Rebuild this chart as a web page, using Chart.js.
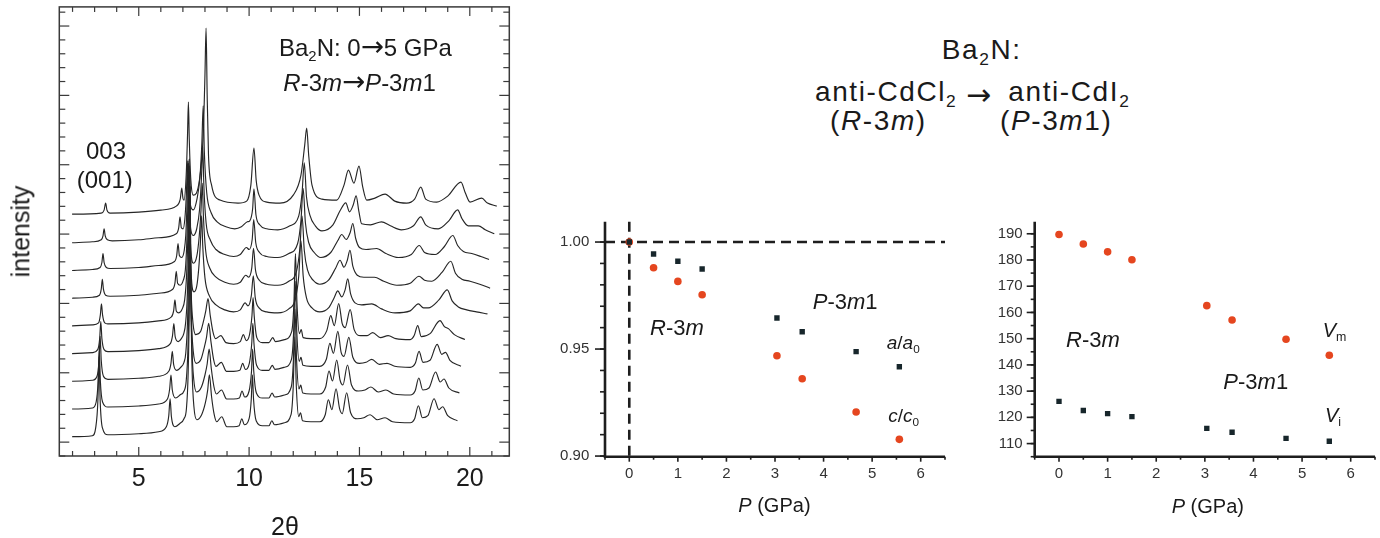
<!DOCTYPE html>
<html><head><meta charset="utf-8">
<script src="https://cdn.jsdelivr.net/npm/chart.js@4.4.1/dist/chart.umd.min.js"></script>
<style>
html,body{margin:0;padding:0;background:#fff;}
#wrap{position:relative;width:1380px;height:538px;overflow:hidden;background:#fff;font-family:"Liberation Sans",Arial,sans-serif;color:#1a1a1a;}
.cv{position:absolute;}
.t{position:absolute;white-space:nowrap;line-height:1;}
.t i{font-style:italic;}
.sub{font-size:0.62em;position:relative;top:0.32em;}
.arr{font-family:"DejaVu Sans",sans-serif;font-size:1.15em;letter-spacing:0;}
</style></head>
<body><div id="wrap">
<canvas id="c1" class="cv" width="520" height="538" style="left:0;top:0"></canvas>
<canvas id="c2" class="cv" width="420" height="338" style="left:540px;top:200px"></canvas>
<canvas id="c3" class="cv" width="420" height="338" style="left:960px;top:200px"></canvas>
</div>
<script>
// ---------- XRD patterns (2θ, intensity above own baseline), bottom (0 GPa) to top ----------
const TRACE_1 = [[1.98,0],[2.9,1],[3.05,9],[3.15,37],[3.2,80],[3.25,37],[3.35,9],[3.6,2],[5.0,3],[5.9,5],[6.25,10],[6.36,21],[6.42,38],[6.48,20],[6.64,10],[6.85,13],[7.05,18],[7.16,28],[7.24,65],[7.29,130],[7.33,250],[7.37,130],[7.42,65],[7.5,30],[7.63,17],[7.85,22],[8.02,34],[8.12,46],[8.2,62],[8.3,40],[8.42,22],[8.53,15],[8.76,20],[8.99,10],[9.3,10],[9.55,11],[9.67,18],[9.78,12],[10.0,18],[10.1,38],[10.15,62],[10.2,38],[10.32,16],[10.6,11],[10.9,11],[11.03,16],[11.15,12],[11.6,14],[11.9,22],[12.0,50],[12.07,100],[12.14,50],[12.25,20],[12.33,24],[12.42,16],[12.8,15],[13.2,15],[13.45,22],[13.59,37],[13.75,27],[13.94,48],[14.1,28],[14.22,23],[14.42,44],[14.6,24],[14.9,18],[15.2,19],[15.48,22],[15.8,17],[16.16,19],[16.5,15],[17.3,14],[17.5,18],[17.67,31],[17.85,19],[18.1,21],[18.38,38],[18.6,27],[18.77,30],[19.0,21],[19.44,16]];
const TRACE_2 = [[1.98,0],[2.9,1],[3.07,7],[3.16,28],[3.21,60],[3.26,28],[3.36,7],[3.6,2],[5.0,3],[5.9,5],[6.3,10],[6.4,20],[6.46,34],[6.52,19],[6.67,11],[6.87,14],[7.05,18],[7.15,28],[7.23,62],[7.28,120],[7.32,235],[7.36,120],[7.41,62],[7.49,30],[7.62,17],[7.84,22],[8.0,34],[8.1,45],[8.19,60],[8.29,40],[8.41,22],[8.52,15],[8.75,19],[8.98,10],[9.3,10],[9.56,11],[9.68,18],[9.8,12],[10.0,18],[10.11,38],[10.16,60],[10.21,38],[10.33,16],[10.6,11],[10.9,11],[11.04,16],[11.16,12],[11.6,14],[11.91,22],[12.01,50],[12.08,100],[12.15,50],[12.26,20],[12.34,24],[12.43,16],[12.8,15],[13.2,15],[13.47,22],[13.62,38],[13.78,28],[13.97,49],[14.12,29],[14.25,24],[14.46,44],[14.64,24],[14.95,18],[15.25,19],[15.52,22],[15.85,17],[16.2,19],[16.55,15],[17.3,14],[17.52,18],[17.69,31],[17.87,19],[18.15,21],[18.45,37],[18.66,27],[18.83,30],[19.05,21],[19.53,16]];
const TRACE_3 = [[1.98,0],[2.9,1],[3.11,5],[3.2,21],[3.25,45],[3.3,21],[3.4,5],[3.6,2],[5.0,3],[5.9,5],[6.36,10],[6.46,18],[6.52,30],[6.58,17],[6.72,11],[6.9,14],[7.05,19],[7.13,28],[7.21,60],[7.26,112],[7.3,215],[7.34,112],[7.39,60],[7.47,30],[7.6,18],[7.82,22],[7.97,34],[8.07,44],[8.17,58],[8.27,40],[8.39,22],[8.5,15],[8.74,19],[8.97,10],[9.3,10],[9.58,11],[9.71,18],[9.83,12],[10.01,18],[10.12,38],[10.17,58],[10.22,38],[10.34,16],[10.6,11],[10.9,11],[11.05,16],[11.17,12],[11.6,14],[11.92,22],[12.02,50],[12.09,100],[12.16,50],[12.27,20],[12.35,24],[12.44,16],[12.8,15],[13.2,15],[13.5,22],[13.66,38],[13.82,28],[14.02,50],[14.17,29],[14.3,25],[14.52,44],[14.7,24],[15.0,18],[15.3,19],[15.56,22],[15.9,17],[16.25,18],[16.6,15],[17.3,14],[17.53,18],[17.7,30],[17.88,19],[18.2,21],[18.52,37],[18.73,27],[18.9,29],[19.1,21],[19.6,15]];
const TRACE_4 = [[1.98,0],[2.9,1],[3.14,4],[3.23,15],[3.28,32],[3.33,15],[3.43,4],[3.6,2],[5.0,3],[5.9,5],[6.43,10],[6.53,18],[6.59,30],[6.65,17],[6.79,12],[6.93,15],[7.04,20],[7.12,30],[7.2,58],[7.25,105],[7.29,195],[7.33,105],[7.38,58],[7.46,30],[7.58,19],[7.8,22],[7.94,33],[8.04,43],[8.14,55],[8.24,38],[8.36,22],[8.48,15],[8.72,18],[8.95,11],[9.3,10],[9.6,12],[9.74,19],[9.87,13],[10.02,19],[10.13,38],[10.18,56],[10.23,38],[10.35,16],[10.6,11],[10.9,11],[11.07,16],[11.19,12],[11.6,14],[11.93,22],[12.03,50],[12.1,100],[12.17,50],[12.28,20],[12.36,24],[12.45,16],[12.8,15],[13.2,15],[13.52,23],[13.7,38],[13.86,28],[14.06,50],[14.22,30],[14.35,26],[14.58,44],[14.76,24],[15.05,18],[15.35,18],[15.6,21],[15.95,16],[16.3,18],[16.65,15],[17.3,14],[17.48,18],[17.64,28],[17.8,17],[18.2,20],[18.65,33],[18.85,27],[19.03,25],[19.3,19],[19.78,14]];
const TRACE_5 = [[1.98,0],[2.9,1],[3.18,3],[3.26,11],[3.31,22],[3.36,11],[3.46,3],[3.6,2],[5.0,3],[5.9,5],[6.48,9],[6.58,15],[6.64,26],[6.7,15],[6.82,13],[6.97,17],[7.08,26],[7.17,52],[7.23,95],[7.28,160],[7.32,90],[7.38,50],[7.5,34],[7.63,40],[7.72,58],[7.79,82],[7.85,110],[7.9,80],[8.0,48],[8.2,30],[8.5,21],[8.9,16],[9.3,14],[9.6,16],[9.82,23],[9.95,20],[10.1,30],[10.19,50],[10.28,28],[10.45,18],[10.8,14],[11.3,13],[11.8,17],[12.1,27],[12.25,50],[12.35,85],[12.45,50],[12.6,28],[12.85,18],[13.2,14],[13.6,18],[13.85,28],[14.02,35],[14.2,29],[14.35,36],[14.47,47],[14.6,32],[14.8,23],[15.1,21],[15.56,22],[16.0,17],[16.61,13],[17.3,15],[17.67,22],[17.9,18],[18.12,18],[18.6,26],[18.98,36],[19.2,25],[19.48,19],[19.86,16],[20.3,14],[20.8,12]];
const TRACE_6 = [[1.98,0],[2.9,1],[3.22,3],[3.3,9],[3.35,19],[3.4,9],[3.5,3],[3.7,2],[5.0,3],[5.9,5],[6.54,9],[6.64,15],[6.7,27],[6.76,15],[6.88,13],[7.02,18],[7.11,28],[7.17,52],[7.22,88],[7.26,135],[7.3,85],[7.36,48],[7.48,35],[7.63,42],[7.74,62],[7.82,88],[7.88,115],[7.93,82],[8.03,48],[8.22,30],[8.5,21],[8.9,16],[9.3,14],[9.6,16],[9.85,23],[9.98,21],[10.12,30],[10.2,50],[10.29,28],[10.46,18],[10.8,14],[11.3,13],[11.8,17],[12.15,27],[12.3,50],[12.4,82],[12.5,48],[12.65,28],[12.9,18],[13.2,14],[13.6,18],[13.92,30],[14.12,38],[14.3,31],[14.45,38],[14.57,48],[14.7,32],[14.9,23],[15.2,21],[15.68,21],[16.1,17],[16.69,13],[17.3,15],[17.7,22],[17.95,18],[18.28,17],[18.75,26],[19.14,37],[19.35,25],[19.64,19],[20.01,17],[20.45,14],[20.92,10]];
const TRACE_7 = [[1.98,0],[2.9,1],[3.25,3],[3.33,8],[3.38,17],[3.43,8],[3.53,3],[3.7,2],[5.0,3],[5.9,5],[6.62,9],[6.72,15],[6.78,27],[6.84,15],[6.95,13],[7.06,20],[7.13,35],[7.18,62],[7.24,110],[7.29,65],[7.35,42],[7.47,35],[7.63,42],[7.76,62],[7.84,92],[7.9,124],[7.95,85],[8.05,48],[8.25,30],[8.5,21],[8.9,16],[9.3,14],[9.6,16],[9.88,23],[10.0,21],[10.14,31],[10.21,51],[10.3,28],[10.47,18],[10.8,14],[11.3,13],[11.8,17],[12.2,27],[12.35,50],[12.45,82],[12.55,48],[12.7,28],[12.95,18],[13.25,13],[13.7,18],[14.02,30],[14.2,36],[14.4,31],[14.58,38],[14.7,47],[14.83,32],[15.0,23],[15.3,21],[15.78,22],[16.2,17],[16.76,13],[17.35,16],[17.71,25],[17.95,18],[18.43,16],[18.85,24],[19.23,35],[19.45,25],[19.71,19],[20.09,17],[20.5,14],[20.87,11]];
const TRACE_8 = [[1.98,0],[2.9,1],[3.3,3],[3.38,7],[3.43,14],[3.48,7],[3.58,3],[3.8,2],[5.0,3],[5.9,5],[6.7,9],[6.81,15],[6.87,26],[6.93,15],[7.01,14],[7.09,24],[7.15,45],[7.22,82],[7.27,55],[7.34,38],[7.47,33],[7.64,44],[7.77,65],[7.86,100],[7.92,137],[7.97,92],[8.08,50],[8.28,30],[8.55,21],[8.95,16],[9.35,14],[9.65,16],[9.92,21],[10.03,22],[10.16,34],[10.22,54],[10.31,28],[10.48,18],[10.8,14],[11.3,13],[11.85,17],[12.25,27],[12.4,50],[12.5,80],[12.6,46],[12.75,28],[13.0,17],[13.3,12],[13.8,18],[14.12,32],[14.38,40],[14.55,31],[14.72,38],[14.85,47],[14.97,32],[15.1,19],[15.5,18],[16.0,21],[16.4,17],[16.9,13],[17.45,17],[17.78,26],[18.0,18],[18.57,14],[19.05,22],[19.45,33],[19.65,24],[19.93,17],[20.39,17],[20.7,13],[21.11,9]];
const TRACE_9 = [[1.98,1],[3.3,2],[3.43,5],[3.5,12],[3.56,5],[3.7,2],[5.0,3],[6.0,5],[6.7,9],[6.88,16],[6.95,27],[7.0,17],[7.05,15],[7.15,40],[7.21,80],[7.25,113],[7.29,75],[7.36,35],[7.47,20],[7.75,35],[7.92,80],[8.0,140],[8.05,187],[8.1,120],[8.16,60],[8.3,30],[8.68,15],[9.5,12],[9.89,14],[10.08,30],[10.22,67],[10.32,35],[10.45,20],[10.8,13],[11.4,12],[12.0,20],[12.35,40],[12.52,70],[12.61,87],[12.7,60],[12.85,30],[13.3,16],[13.97,15],[14.3,30],[14.5,45],[14.75,32],[14.98,49],[15.15,28],[15.33,15],[15.7,17],[16.16,21],[16.6,14],[17.14,12],[17.5,16],[17.78,28],[18.0,16],[18.5,13],[19.0,19],[19.6,33],[19.8,22],[20.01,13],[20.54,17],[20.8,12],[21.22,9]];
const TRACES = [TRACE_1, TRACE_2, TRACE_3, TRACE_4, TRACE_5, TRACE_6, TRACE_7, TRACE_8, TRACE_9];
const TRACE_BASE = 19.3, TRACE_STEP = 27.7;
const TWO_THETA_TICKS = [5, 10, 15, 20];

// ---------- lattice data vs pressure ----------
const PRESSURE = [0, 0.5, 1.0, 1.5, 3.04, 3.56, 4.67, 5.56];
const A_RATIO = [1.000, 0.9944, 0.9910, 0.9874, 0.9645, 0.9581, 0.9488, 0.9417];
const C_RATIO = [1.000, 0.9880, 0.9816, 0.9754, 0.9469, 0.9361, 0.9206, 0.9078];
const V_M = [189.7, 186.1, 183.1, 180.1, 162.6, 157.1, 149.8, 143.7];
const V_I = [126.1, 122.6, 121.4, 120.3, 115.8, 114.3, 112.0, 110.9];
const P_TICKS = [0, 1, 2, 3, 4, 5, 6];
const RATIO_TICKS = [0.90, 0.95, 1.00];
const VOL_TICKS = [110, 120, 130, 140, 150, 160, 170, 180, 190];

const ORANGE = '#e5461f', DARK = '#17262b', INK = '#1c1c1c';
Chart.defaults.font.family = '"Liberation Sans", Arial, sans-serif';
Chart.defaults.color = '#2a2a2a';

const deco = {
  id: 'deco',
  beforeDatasetsDraw(chart, args, o) {
    if (!o.refLines) return;
    const ctx = chart.ctx, a = chart.chartArea, xs = chart.scales.x, ys = chart.scales.y;
    ctx.save(); ctx.strokeStyle = o.color; ctx.lineWidth = o.refWidth; ctx.setLineDash(o.refDash);
    for (const r of o.refLines) {
      ctx.beginPath();
      if (r.x !== undefined) { const p = xs.getPixelForValue(r.x); ctx.moveTo(p, a.top); ctx.lineTo(p, a.bottom); }
      else { const p = ys.getPixelForValue(r.y); ctx.moveTo(a.left, p); ctx.lineTo(a.right, p); }
      ctx.stroke();
    }
    ctx.restore();
  },
  afterDatasetsDraw(chart, args, o) {
    const ctx = chart.ctx, a = chart.chartArea;
    ctx.save(); ctx.strokeStyle = o.color; ctx.lineWidth = o.width; ctx.setLineDash([]);
    if (o.box) ctx.strokeRect(a.left, a.top, a.right - a.left, a.bottom - a.top);
    else { ctx.beginPath(); ctx.moveTo(a.left, a.top); ctx.lineTo(a.left, a.bottom); ctx.lineTo(a.right, a.bottom); ctx.stroke(); }
    ctx.lineWidth = o.tickWidth;
    for (const m of o.marks) {
      const sc = chart.scales[m.axis];
      for (const v of m.values) {
        const p = sc.getPixelForValue(v);
        ctx.beginPath();
        if (m.side === 'bottom') { ctx.moveTo(p, a.bottom); ctx.lineTo(p, a.bottom + m.len); }
        else if (m.side === 'top') { ctx.moveTo(p, a.top); ctx.lineTo(p, a.top - m.len); }
        else if (m.side === 'left') { ctx.moveTo(a.left, p); ctx.lineTo(a.left - m.len, p); }
        else { ctx.moveTo(a.right, p); ctx.lineTo(a.right + m.len, p); }
        ctx.stroke();
      }
    }
    ctx.restore();
  }
};
function range(a, b, s) { const r = []; for (let v = a; v <= b + 1e-9; v += s) r.push(+v.toFixed(4)); return r; }
function fixAxis(size, isY) {
  return (sc) => { if (isY) sc.width = size; else sc.height = size; sc.paddingLeft = sc.paddingRight = sc.paddingTop = sc.paddingBottom = 0; };
}
const common = { responsive: false, animation: false, events: [], plugins: { legend: { display: false }, tooltip: { enabled: false } } };
function noGrid() { return { display: false, drawTicks: false, tickLength: 0 }; }

// ---------- left: XRD ----------
const yStep = 13.87;
const yMinor = [], yMajor = [];
for (let k = 0; k <= 32; k++) (k % 5 === 1 ? yMajor : yMinor).push(k * yStep);
const xMinor = range(2, 21, 1).filter(v => v % 5 !== 0);
new Chart(document.getElementById('c1'), {
  type: 'line',
  data: { datasets: TRACES.map((tr, i) => ({
    data: tr.map(([x, h]) => ({ x: x, y: h + TRACE_BASE + i * TRACE_STEP })),
    borderColor: '#262626', borderWidth: 1.15, pointRadius: 0, cubicInterpolationMode: 'monotone', fill: false
  })) },
  options: Object.assign({}, common, {
    layout: { padding: { left: 59.3, top: 6.9, right: 10.7, bottom: 0 } },
    scales: {
      x: { type: 'linear', min: 1.4, max: 21.79, grid: noGrid(), border: { display: false },
           afterBuildTicks: sc => { sc.ticks = TWO_THETA_TICKS.map(v => ({ value: v })); },
           afterFit: fixAxis(82, false),
           ticks: { padding: 8, font: { size: 25 }, color: INK, maxRotation: 0 } },
      y: { type: 'linear', display: false, min: 0, max: 449.1 }
    },
    plugins: Object.assign({}, common.plugins, { deco: {
      color: '#3a3a3a', width: 1.5, tickWidth: 1.2, box: true,
      marks: [
        { axis: 'x', side: 'bottom', values: xMinor, len: -5 }, { axis: 'x', side: 'bottom', values: TWO_THETA_TICKS, len: -9 },
        { axis: 'x', side: 'top', values: xMinor, len: -5 }, { axis: 'x', side: 'top', values: TWO_THETA_TICKS, len: -9 },
        { axis: 'y', side: 'left', values: yMinor, len: -6 }, { axis: 'y', side: 'left', values: yMajor, len: -10 },
        { axis: 'y', side: 'right', values: yMinor, len: -6 }, { axis: 'y', side: 'right', values: yMajor, len: -10 }
      ] } })
  }),
  plugins: [deco]
});

// ---------- middle & right: scatter panels ----------
function scatterChart(id, sets, yMin, yMax, yTicks, fmt, yWidth, yPad, padRight, marks, refLines) {
  new Chart(document.getElementById(id), {
    type: 'scatter',
    data: { datasets: sets },
    options: Object.assign({}, common, {
      layout: { padding: { left: 0, top: 21.7, right: padRight, bottom: 0 } },
      scales: {
        x: { type: 'linear', min: -0.5, max: 6.5, grid: noGrid(), border: { display: false },
             afterBuildTicks: sc => { sc.ticks = P_TICKS.map(v => ({ value: v })); },
             afterFit: fixAxis(81.3, false),
             ticks: { padding: 8.3, font: { size: 15 }, color: '#333' } },
        y: { type: 'linear', min: yMin, max: yMax, grid: noGrid(), border: { display: false },
             afterBuildTicks: sc => { sc.ticks = yTicks.map(v => ({ value: v })); },
             afterFit: fixAxis(yWidth, true),
             ticks: { padding: yPad, font: { size: 15 }, color: '#333', callback: fmt } }
      },
      plugins: Object.assign({}, common.plugins, { deco: {
        color: '#1e1e1e', width: 2.6, tickWidth: 1.6, box: false, refLines: refLines, refWidth: 2.6, refDash: [10, 6],
        marks: marks } })
    }),
    plugins: [deco]
  });
}
const pMarks = [{ axis: 'x', side: 'bottom', values: P_TICKS, len: 5 }, { axis: 'x', side: 'bottom', values: range(-0.5, 6.5, 1), len: 3 }];
scatterChart('c2', [
  { data: PRESSURE.map((p, i) => ({ x: p, y: A_RATIO[i] })), pointStyle: 'rect', pointRadius: 3.8, backgroundColor: DARK, borderWidth: 0 },
  { data: PRESSURE.map((p, i) => ({ x: p, y: C_RATIO[i] })), pointStyle: 'circle', pointRadius: 3.8, backgroundColor: ORANGE, borderWidth: 0 }
], 0.8997, 1.0095, RATIO_TICKS, v => v.toFixed(2), 65, 15.7, 15,
  pMarks.concat([{ axis: 'y', side: 'left', values: range(0.90, 1.00, 0.01), len: 5 }, { axis: 'y', side: 'left', values: RATIO_TICKS, len: 10 }]),
  [{ y: 1.0 }, { x: 0 }]);

scatterChart('c3', [
  { data: PRESSURE.map((p, i) => ({ x: p, y: V_I[i] })), pointStyle: 'rect', pointRadius: 3.8, backgroundColor: DARK, borderWidth: 0 },
  { data: PRESSURE.map((p, i) => ({ x: p, y: V_M[i] })), pointStyle: 'circle', pointRadius: 3.8, backgroundColor: ORANGE, borderWidth: 0 }
], 105, 194.6, VOL_TICKS, v => String(v), 74.7, 12, 5,
  pMarks.concat([{ axis: 'y', side: 'left', values: range(105, 190, 5), len: 4 }, { axis: 'y', side: 'left', values: VOL_TICKS, len: 8 }]),
  null);

// ---------- text ----------
const wrap = document.getElementById('wrap');
function put(html, x, base, fs, style) {
  const d = document.createElement('div'); d.className = 't'; d.innerHTML = html;
  d.style.fontSize = fs + 'px'; d.style.left = x + 'px'; d.style.top = (base - 0.8465 * fs) + 'px';
  if (style) Object.assign(d.style, style);
  wrap.appendChild(d); return d;
}
const LS = { letterSpacing: '1.6px' };
const ARR = '<span class="arr">→</span>';
put('Ba<span class="sub">2</span>N:', 941.7, 60, 28, LS);
put('anti-CdCl<span class="sub">2</span>', 815, 101.7, 28, LS);
put(ARR, 966, 101.7, 26);
put('anti-CdI<span class="sub">2</span>', 1008.3, 101.7, 28, LS);
put('(<i>R</i>-3<i>m</i>)', 830, 131, 28, LS);
put('(<i>P</i>-3<i>m</i>1)', 1000, 131, 28, LS);

put('Ba<span class="sub">2</span>N: 0' + ARR + '5 GPa', 279, 53.3, 24);
put('<i>R</i>-3<i>m</i>' + ARR + '<i>P</i>-3<i>m</i>1', 283.3, 88.3, 24);
put('003', 86, 159.3, 24);
put('(001)', 76.7, 188.3, 24);
const it = put('intensity', 0, 0, 25);
it.style.left = (21 - it.offsetWidth / 2) + 'px'; it.style.top = (231 - it.offsetHeight / 2) + 'px'; it.style.transform = 'rotate(-90deg)';
const tt = put('2θ', 0, 535, 25);
tt.style.left = (285 - tt.offsetWidth / 2) + 'px';

put('<i>R</i>-3<i>m</i>', 650, 336, 22);
put('<i>P</i>-3<i>m</i>1', 812.7, 309.3, 22);
put('<i>a</i>/<i>a</i><span class="sub">0</span>', 886.7, 349, 19);
put('<i>c</i>/<i>c</i><span class="sub">0</span>', 888.3, 422.3, 19);
put('<i>P</i> (GPa)', 738.3, 511.7, 20);

put('<i>R</i>-3<i>m</i>', 1066, 347.7, 22);
put('<i>P</i>-3<i>m</i>1', 1223.3, 389.3, 22);
put('<i>V</i><span class="sub">m</span>', 1322.7, 336.7, 20);
put('<i>V</i><span class="sub">i</span>', 1325, 421.7, 20);
put('<i>P</i> (GPa)', 1171.7, 512.7, 20);
</script>
</body></html>
